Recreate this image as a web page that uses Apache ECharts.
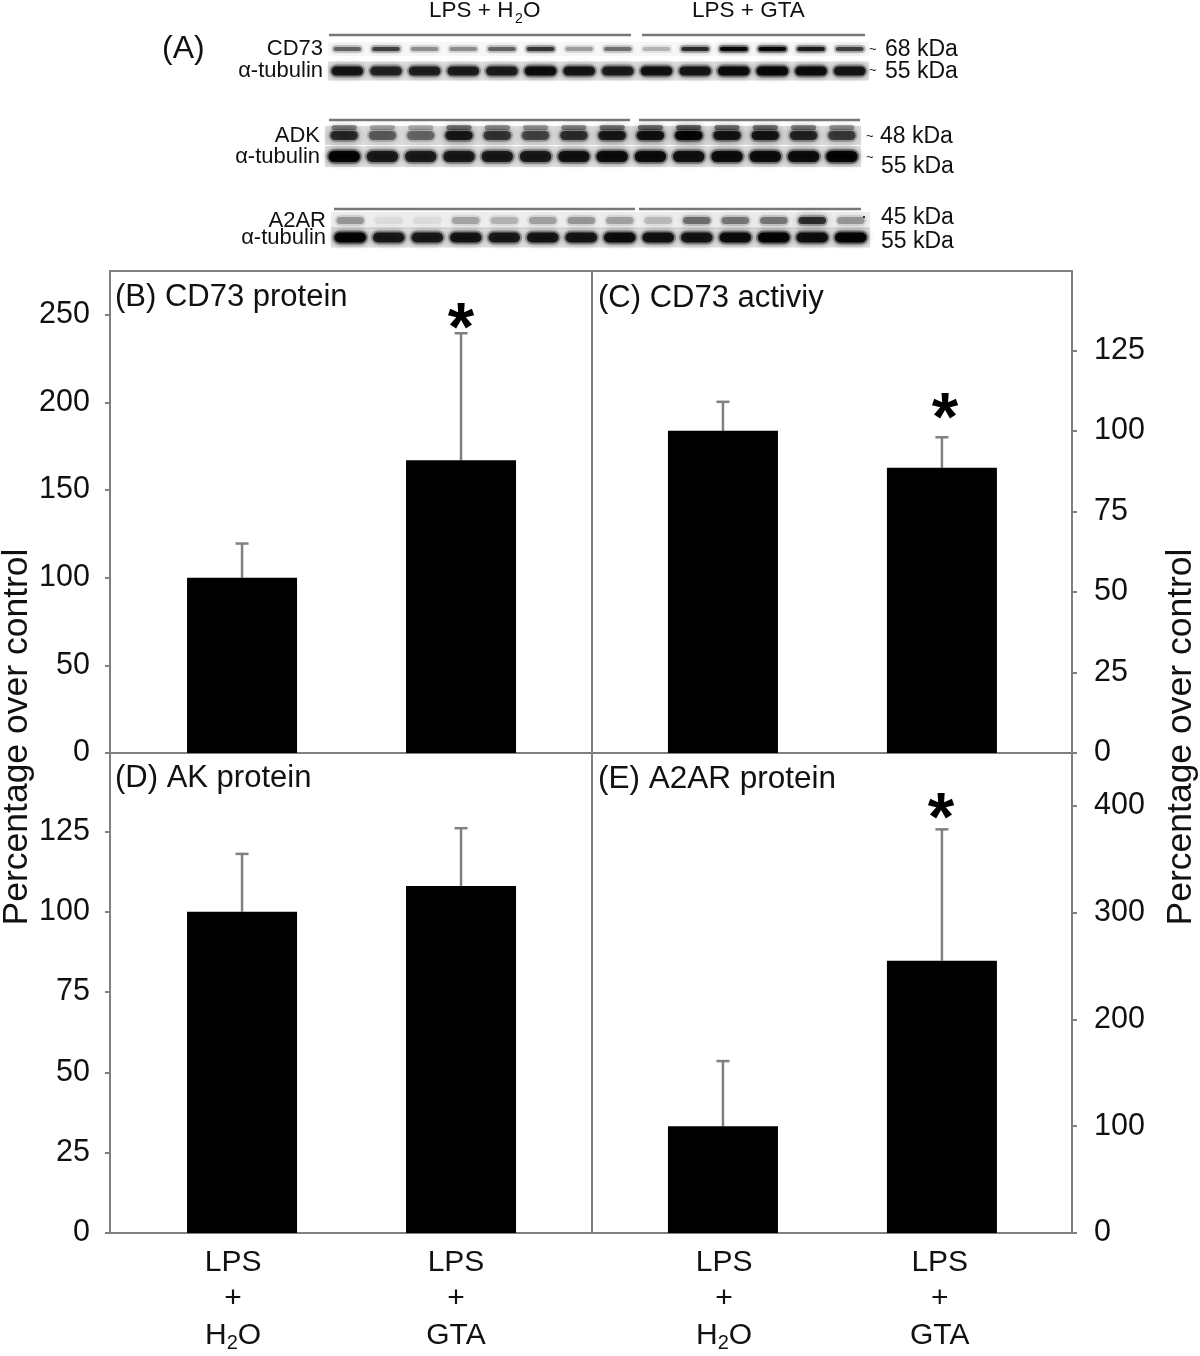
<!DOCTYPE html>
<html><head><meta charset="utf-8">
<style>html,body{margin:0;padding:0;background:#fff}#c{width:1200px;height:1356px}</style>
<script src="https://cdn.jsdelivr.net/npm/echarts@6/dist/echarts.min.js"></script>
</head><body><div id="c"></div>
<script>
// ---- data ----
const groupPositions = [1, 2];
const labelPositionsD = [0.959, 1.977];
const labelPositionsE = [1.005, 1.99];
const groupsH2O = 'LPS\n+\nH{sub|2}O';
const groupsGTA = 'LPS\n+\nGTA';

const cd73Protein = [100, 167];
const cd73ProteinErr = [119.5, 239.5];
const cd73ProteinStar = [null, 248];

const cd73Activity = [100, 88.5];
const cd73ActivityErr = [109, 98];
const cd73ActivityStar = [null, 107];

const akProtein = [100, 108];
const akProteinErr = [118, 126];
const akProteinStar = [null, null];

const a2arProtein = [100, 255];
const a2arProteinErr = [161, 378];
const a2arProteinStar = [null, 398];

const leftTicksB = [0, 50, 100, 150, 200, 250];
const rightTicksC = [0, 25, 50, 75, 100, 125];
const leftTicksD = [0, 25, 50, 75, 100, 125];
const rightTicksE = [0, 100, 200, 300, 400];

// western blot lanes: band darkness per lane, 0-1
const lanes = ['1','2','3','4','5','6','7','8','9','10','11','12','13','14'];
const blotCD73 = [0.5,0.65,0.35,0.35,0.5,0.7,0.3,0.45,0.22,0.75,1,1,0.85,0.65];
const blotCD73Tub = [0.85,0.76,0.78,0.8,0.8,0.92,0.85,0.8,0.88,0.84,0.92,0.96,0.92,0.85];
const blotADK = [0.75,0.5,0.45,0.85,0.68,0.6,0.72,0.85,0.9,1,0.88,0.88,0.78,0.65];
const blotADKTub = [1,0.82,0.8,0.82,0.82,0.82,0.88,0.92,0.92,0.88,0.92,0.92,0.92,1];
const blotA2AR = [0.3,0.06,0.06,0.25,0.2,0.26,0.3,0.26,0.18,0.45,0.42,0.42,0.75,0.3];
const blotA2ARTub = [1,0.82,0.82,0.85,0.82,0.85,0.85,0.92,0.88,0.85,0.92,1,0.9,1];

// ---- style ----
const FONT = '"Liberation Sans", Arial, sans-serif';
const FRAME = '#808080';
const TEXT = '#111';

const panels = [
  {l:110, t:271, w:482, h:482, ymax:275,   vals:cd73Protein,  errs:cd73ProteinErr,  stars:cd73ProteinStar,  ticks:leftTicksB,  side:'left',  xmin:0.397, xmax:2.598, xlab:null, starDx:0},
  {l:592, t:271, w:480, h:482, ymax:149.6, vals:cd73Activity, errs:cd73ActivityErr, stars:cd73ActivityStar, ticks:rightTicksC, side:'right', xmin:0.402, xmax:2.594, xlab:null, starDx:3},
  {l:110, t:753, w:482, h:480, ymax:149.4, vals:akProtein,    errs:akProteinErr,    stars:akProteinStar,    ticks:leftTicksD,  side:'left',  xmin:0.397, xmax:2.598, xlab:labelPositionsD, starDx:0},
  {l:592, t:753, w:480, h:480, ymax:449.5, vals:a2arProtein,  errs:a2arProteinErr,  stars:a2arProteinStar,  ticks:rightTicksE, side:'right', xmin:0.402, xmax:2.594, xlab:labelPositionsE, starDx:-1}
];

const grid = [], xAxis = [], yAxis = [], series = [];

panels.forEach((p, i) => {
  grid.push({left:p.l, top:p.t, width:p.w, height:p.h, show:true, borderColor:FRAME, borderWidth:2, backgroundColor:'transparent'});
  xAxis.push({
    type:'value', gridIndex:i, min:p.xmin, max:p.xmax, splitLine:{show:false},
    axisLine:{show:false}, axisTick:{show:false},
    axisLabel:{
      show:!!p.xlab, customValues:p.xlab || groupPositions, margin:11, color:TEXT, fontFamily:FONT, fontSize:30, lineHeight:36.5,
      formatter:v => v < 1.5 ? groupsH2O : groupsGTA,
      rich:{sub:{fontSize:20, fontFamily:FONT, color:TEXT, verticalAlign:'bottom', lineHeight:36.5}}
    }
  });
  yAxis.push({
    type:'value', gridIndex:i, min:0, max:p.ymax, position:p.side, splitLine:{show:false},
    axisLine:{show:false},
    axisTick:{show:true, length:5, customValues:p.ticks, lineStyle:{color:FRAME, width:2}},
    axisLabel:{customValues:p.ticks, margin:p.side === 'left' ? 20 : 22, padding:[7,0,0,0], color:TEXT, fontFamily:FONT, fontSize:30.5}
  });
  series.push({
    type:'bar', xAxisIndex:i, yAxisIndex:i, barWidth:110, silent:true, animation:false,
    itemStyle:{color:'#000'},
    data:p.vals.map((v, k) => [groupPositions[k], v])
  });
  series.push({
    type:'custom', xAxisIndex:i, yAxisIndex:i, silent:true, animation:false, clip:false,
    data:p.vals.map((v, k) => [groupPositions[k], v, p.errs[k]]),
    renderItem:(params, api) => {
      const x = api.value(0);
      const base = api.coord([x, api.value(1)]);
      const top = api.coord([x, api.value(2)]);
      const kids = [
        {type:'line', shape:{x1:base[0], y1:base[1], x2:top[0], y2:top[1]}, style:{stroke:'#808080', lineWidth:2.5}},
        {type:'line', shape:{x1:top[0]-6.5, y1:top[1], x2:top[0]+6.5, y2:top[1]}, style:{stroke:'#808080', lineWidth:2.5}}
      ];
      const s = p.stars[params.dataIndex];
      if (s != null) {
        const c = api.coord([x, s]);
        kids.push({type:'text', style:{x:c[0]+p.starDx, y:c[1]+13, text:'*', font:'bold 68px ' + FONT, fill:'#000', align:'center', verticalAlign:'middle'}});
      }
      return {type:'group', children:kids};
    }
  });
});

// ---- blots ----
const blots = [
  {l:328, t:38,  w:541, h:44, rows:['CD73','\u03b1-tubulin'], a:blotCD73, b:blotCD73Tub, ha:4, hb:9, blurA:5, blurB:6, haze:0.03},
  {l:325, t:125, w:536, h:42, rows:['ADK','\u03b1-tubulin'], a:blotADK, b:blotADKTub, ha:9, hb:11, blurA:9, blurB:6, haze:0.14},
  {l:331, t:212, w:539, h:34, rows:['A2AR','\u03b1-tubulin'], a:blotA2AR, b:blotA2ARTub, ha:7, hb:10, blurA:9, blurB:6, haze:0.07}
];
blots.forEach((b, j) => {
  const gi = 4 + j;
  grid.push({left:b.l, top:b.t, width:b.w, height:b.h, show:false});
  xAxis.push({type:'category', gridIndex:gi, data:lanes, axisLine:{show:false}, axisTick:{show:false}, axisLabel:{show:false}, splitLine:{show:false}});
  yAxis.push({type:'category', gridIndex:gi, data:b.rows, inverse:true, axisLine:{show:false}, axisTick:{show:false}, splitLine:{show:false},
    axisLabel:{interval:0, margin:5, color:TEXT, fontFamily:FONT, fontSize:22, hideOverlap:false}});
  const rowsData = [];
  b.a.forEach((v, k) => rowsData.push([k, 0, v]));
  b.b.forEach((v, k) => rowsData.push([k, 1, v]));
  series.push({
    type:'custom', xAxisIndex:gi, yAxisIndex:gi, silent:true, animation:false, clip:false, data:rowsData,
    renderItem:(params, api) => {
      const lane = api.value(0), row = api.value(1), v = api.value(2);
      const c = api.coord([lane, row]);
      const bw = api.size([1, 1])[0];
      const h = row === 0 ? b.ha : b.hb;
      const blur = row === 0 ? b.blurA : b.blurB;
      const w = bw - (row === 1 ? 5 : 9);
      const col = 'rgba(0,0,0,' + (v * 0.92) + ')';
      const halo = 'rgba(0,0,0,' + (v * 0.3) + ')';
      const hazeA = row === 1 ? 0.12 : b.haze;
      const kids = [
        {type:'rect', shape:{x:c[0]-bw/2, y:c[1]-h/2-5, width:bw, height:h+10}, style:{fill:'rgba(0,0,0,' + hazeA + ')'}},
        {type:'rect', z2:1, shape:{x:c[0]-w/2-1, y:c[1]-h/2-2, width:w+2, height:h+4, r:(h+4)/2}, style:{fill:halo, shadowBlur:blur, shadowColor:halo}},
        {type:'rect', z2:2, shape:{x:c[0]-w/2+1, y:c[1]-h/2, width:w-2, height:h, r:h/2}, style:{fill:col, shadowBlur:blur, shadowColor:col}}
      ];
      if (j === 1 && row === 0) {
        kids.push({type:'rect', z2:2, shape:{x:c[0]-w/2+2, y:c[1]-h/2-6, width:w-4, height:5, r:2.5}, style:{fill:'rgba(0,0,0,' + (v*0.5) + ')', shadowBlur:6, shadowColor:'rgba(0,0,0,' + (v*0.5) + ')'}});
      }
      return {type:'group', children:kids};
    }
  });
});

const txt = (x, y, text, size, align, extra) => Object.assign({
  type:'text', x, y: y + (extra ? 0 : 1.5), silent:true,
  style:{text, font:size + 'px ' + FONT, fill:TEXT, align:align || 'left', verticalAlign:'middle'}
}, extra || {});
const bar = (x1, x2, y) => ({type:'line', silent:true, shape:{x1, y1:y, x2, y2:y}, style:{stroke:'#777', lineWidth:2.5}});

const graphicEls = [
  txt(162, 48, '(A)', 32),
  txt(429, 9, 'LPS + H', 22.5), txt(515, 18, '2', 14), txt(523, 9, 'O', 22.5),
  txt(692, 9, 'LPS + GTA', 22.5),
  bar(329,631,35), bar(642,865,35),
  bar(329,630,120), bar(639,860,120),
  bar(334,635,209), bar(639,861,209),
  txt(869, 48, '~', 13), txt(885, 48, '68 kDa', 23),
  txt(869, 69, '~', 13), txt(885, 70, '55 kDa', 23),
  txt(866, 135, '~', 13), txt(880, 135, '48 kDa', 23),
  txt(866, 156, '~', 13), txt(881, 165, '55 kDa', 23),
  txt(861, 216, '\u00b7', 18), txt(881, 216, '45 kDa', 23),
  txt(861, 236, '~', 10), txt(881, 240, '55 kDa', 23),
  txt(115, 296, '(B) CD73 protein', 31),
  txt(598, 297, '(C) CD73 activiy', 31),
  txt(115, 777, '(D) AK protein', 31),
  txt(598, 778, '(E) A2AR protein', 31.5),
  txt(17, 737, 'Percentage over control', 35.5, 'center', {rotation:Math.PI/2}),
  txt(1181, 737, 'Percentage over control', 35.5, 'center', {rotation:Math.PI/2})
];

const chart = echarts.init(document.getElementById('c'), null, {renderer:'canvas'});
chart.setOption({
  animation:false, backgroundColor:'#fff',
  grid, xAxis, yAxis, series,
  graphic:{elements:graphicEls}
});
</script></body></html>
